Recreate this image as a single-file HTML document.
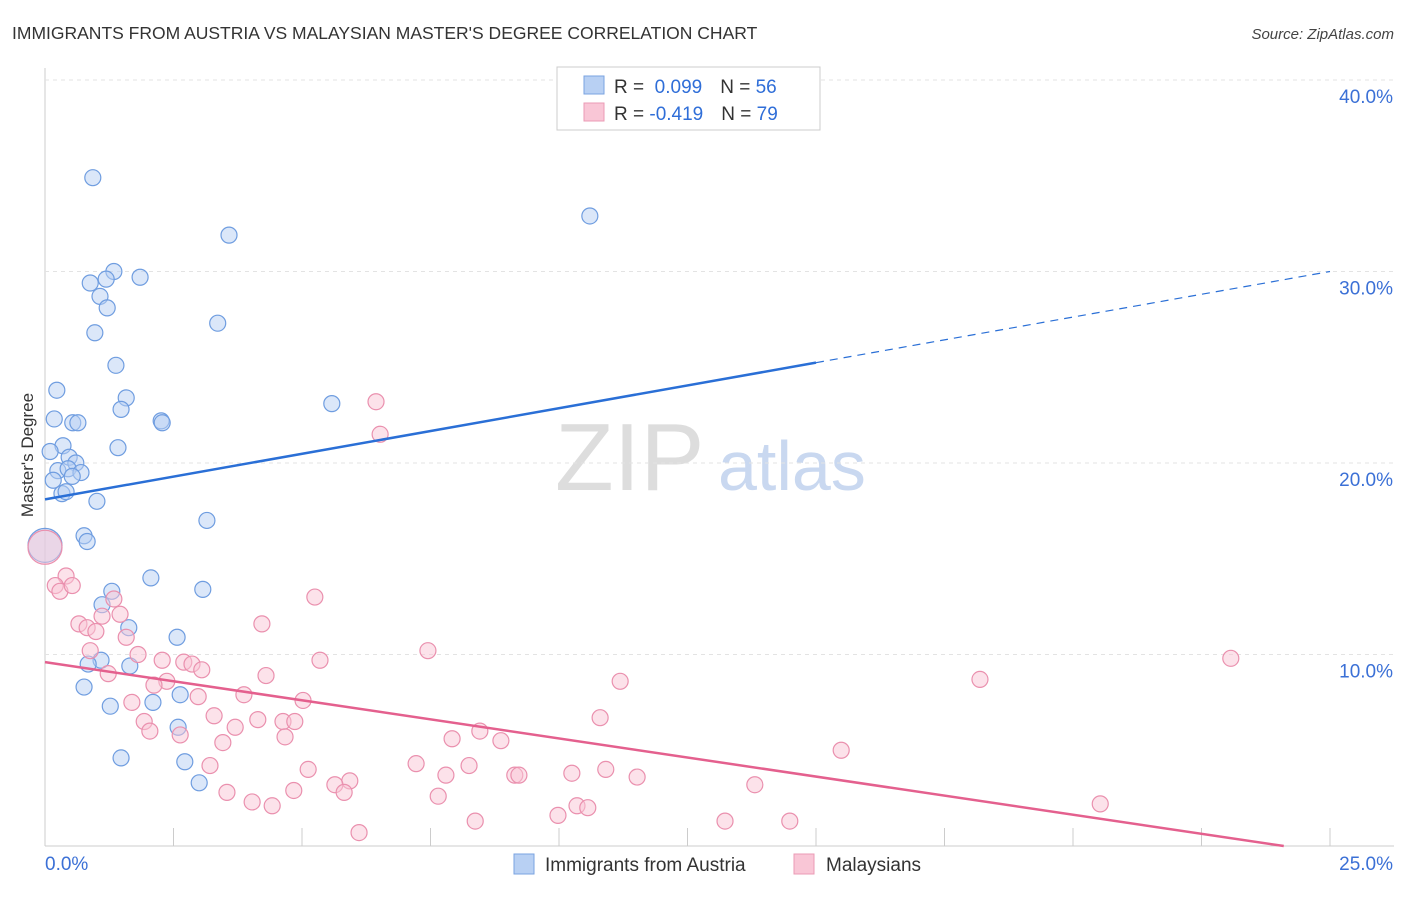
<!DOCTYPE html>
<html><head><meta charset="utf-8"><style>
body{margin:0;background:#fff;font-family:"Liberation Sans",sans-serif;}
svg text{font-family:"Liberation Sans",sans-serif;}
</style></head><body>
<svg id="chart" width="1406" height="892" xmlns="http://www.w3.org/2000/svg">
<text x="12" y="39" font-size="17.5" fill="#333">IMMIGRANTS FROM AUSTRIA VS MALAYSIAN MASTER'S DEGREE CORRELATION CHART</text>
<text x="1394" y="39" font-size="15" fill="#444" text-anchor="end" font-style="italic">Source: ZipAtlas.com</text>
<text x="555" y="490" font-size="96" fill="#ddd" font-family="Liberation Serif">ZIP</text>
<text x="718" y="490" font-size="70" fill="#c9d8f0">atlas</text>
<text transform="translate(33,455) rotate(-90)" font-size="17" fill="#333" text-anchor="middle">Master's Degree</text>
<g id="grid"></g><g id="marks"></g>
<g>
<rect x="557" y="67" width="263" height="63" fill="#fff" stroke="#ccc"/>
<rect x="584" y="76" width="20" height="18" fill="#b8d0f3" stroke="#7aa3e0"/>
<rect x="584" y="103" width="20" height="18" fill="#f9c6d6" stroke="#eb9bb5"/>
<text x="614" y="93" font-size="19" fill="#333">R = <tspan fill="#2f6ed8">&#160;0.099</tspan><tspan dx="18">N = </tspan><tspan fill="#2f6ed8">56</tspan></text>
<text x="614" y="120" font-size="19" fill="#333">R = <tspan fill="#2f6ed8">-0.419</tspan><tspan dx="18">N = </tspan><tspan fill="#2f6ed8">79</tspan></text>
</g>
<g>
<rect x="514" y="854" width="20" height="20" fill="#b8d0f3" stroke="#7aa3e0"/>
<text x="545" y="871" font-size="19" fill="#333">Immigrants from Austria</text>
<rect x="794" y="854" width="20" height="20" fill="#f9c6d6" stroke="#eb9bb5"/>
<text x="826" y="871" font-size="19" fill="#333">Malaysians</text>
</g>
</svg>
<script>
const xTicks=[0,2.5,5,7.5,10,12.5,15,17.5,20,22.5,25];
const yTicks=[10,20,30,40];
const blueX=[0.93,3.58,10.6,1.34,1.85,0.88,1.19,1.07,1.21,0.97,3.36,1.38,0.23,1.58,1.48,5.58,0.18,0.54,0.64,2.26,2.28,0.35,1.42,0.1,0.47,0.6,0.25,0.45,0.7,0.16,0.53,0.33,0.41,1.01,3.15,0.76,0.82,0,2.06,1.3,3.07,1.11,1.63,2.57,1.09,0.84,1.65,0.76,2.63,2.1,1.27,2.59,2.72,1.48,3.0];
const blueY=[34.9,31.9,32.9,30.0,29.7,29.4,29.6,28.7,28.1,26.8,27.3,25.1,23.8,23.4,22.8,23.1,22.3,22.1,22.1,22.2,22.1,20.9,20.8,20.6,20.3,20.0,19.6,19.7,19.5,19.1,19.3,18.4,18.5,18.0,17.0,16.2,15.9,15.7,14.0,13.3,13.4,12.6,11.4,10.9,9.7,9.5,9.4,8.3,7.9,7.5,7.3,6.2,4.4,4.6,3.3];
const pinkX=[6.44,6.52,0,0.41,0.2,0.29,0.53,5.25,1.34,1.46,1.11,4.22,0.66,0.82,0.99,1.58,0.88,1.81,2.28,7.45,5.35,2.7,2.86,3.05,1.23,4.3,2.37,2.12,11.19,18.19,23.07,3.87,2.98,1.69,5.02,10.8,3.29,1.93,2.04,3.7,4.63,4.86,4.14,2.63,3.46,8.46,7.92,8.87,4.67,15.49,3.21,5.12,7.22,7.8,8.25,9.14,9.22,10.25,10.91,11.52,5.93,5.64,5.82,3.54,4.84,7.65,4.03,4.42,13.81,20.53,10.35,10.56,9.98,8.37,13.23,14.49,6.11];
const pinkY=[23.2,21.5,15.6,14.1,13.6,13.3,13.6,13.0,12.9,12.1,12.0,11.6,11.6,11.4,11.2,10.9,10.2,10.0,9.7,10.2,9.7,9.6,9.5,9.2,9.0,8.9,8.6,8.4,8.6,8.7,9.8,7.9,7.8,7.5,7.6,6.7,6.8,6.5,6.0,6.2,6.5,6.5,6.6,5.8,5.4,6.0,5.6,5.5,5.7,5.0,4.2,4.0,4.3,3.7,4.2,3.7,3.7,3.8,4.0,3.6,3.4,3.2,2.8,2.8,2.9,2.6,2.3,2.1,3.2,2.2,2.1,2.0,1.6,1.3,1.3,1.3,0.7];
const blueTrend=[18.1,30.0], pinkTrend=[9.6,0];
const X0=45,X1=1330,Y0=846,PY=19.15;
const sx=v=>X0+(X1-X0)*v/25, sy=v=>Y0-v*PY;
const NS='http://www.w3.org/2000/svg';
function mk(p,t,a){const e=document.createElementNS(NS,t);for(const k in a)e.setAttribute(k,a[k]);p.appendChild(e);return e;}
const grid=document.getElementById('grid'),marks=document.getElementById('marks');
let ax=mk(grid,'line',{x1:45,y1:68,x2:45,y2:846,stroke:'#ccc'});

let bx=mk(grid,'line',{x1:45,y1:846,x2:1394,y2:846,stroke:'#ccc'});

yTicks.forEach(v=>{
 const g=mk(grid,'line',{x1:45,y1:sy(v),x2:1394,y2:sy(v),stroke:'#e3e3e3','stroke-dasharray':'4,4'});
 
 const t=mk(grid,'text',{x:1393,y:sy(v)+23,'font-size':19,fill:'#3b70d6','text-anchor':'end'});t.textContent=v.toFixed(1)+'%';
 
});
xTicks.forEach(v=>{
 const l=mk(grid,'line',{x1:sx(v),y1:828,x2:sx(v),y2:846,stroke:'#ccc'});
 
});
[[0,'0.0%',45,'start'],[25,'25.0%',1393,'end']].forEach(d=>{
 const t=mk(grid,'text',{x:d[2],y:870,'font-size':19,fill:'#3b70d6','text-anchor':d[3]});t.textContent=d[1];
 
});
function dots(xs,ys,fill,stroke,name){
 xs.forEach((x,i)=>{const big=x===0;
  const c=mk(marks,'circle',{cx:sx(x),cy:sy(ys[i]),r:big?17:8,fill:fill,'fill-opacity':0.5,stroke:stroke,'stroke-width':1.2});
  });
}
dots(blueX,blueY,'#b8d0f3','#6f9de0','austria-point');
dots(pinkX,pinkY,'#f9c6d6','#ea90ae','malaysian-point');
const bAt=x=>blueTrend[0]+(blueTrend[1]-blueTrend[0])*x/25;
let l1=mk(marks,'line',{x1:sx(0),y1:sy(bAt(0)),x2:sx(15),y2:sy(bAt(15)),stroke:'#2a6fd6','stroke-width':2.5});

let l2=mk(marks,'line',{x1:sx(15),y1:sy(bAt(15)),x2:sx(25),y2:sy(bAt(25)),stroke:'#2a6fd6','stroke-width':1.2,'stroke-dasharray':'8,6'});

const pEnd=24.1;
let l3=mk(marks,'line',{x1:sx(0),y1:sy(pinkTrend[0]),x2:sx(pEnd),y2:sy(pinkTrend[1]),stroke:'#e4608e','stroke-width':2.5});

</script>
</body></html>
